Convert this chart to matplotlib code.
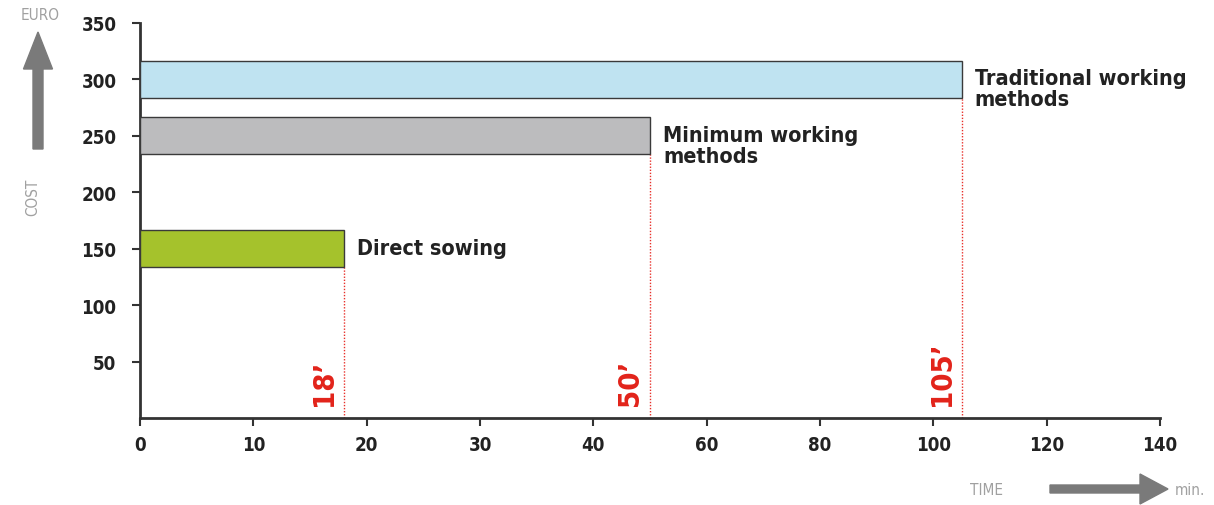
import numpy as np
import matplotlib
matplotlib.use("Agg")
import matplotlib.pyplot as plt
from matplotlib.patches import FancyArrow

# Data
methods = ["Direct sowing", "Minimum working\nmethods", "Traditional working\nmethods"]
costs = [150, 250, 300]          # EURO
times = [18, 50, 105]            # minutes
time_labels = ["18’", "50’", "105’"]
colors = ["#a5c22c", "#bcbcbe", "#bfe3f1"]
x_ticks = [0, 10, 20, 30, 40, 60, 80, 100, 120, 140]
y_ticks = [50, 100, 150, 200, 250, 300, 350]

FONT = ["DejaVu Sans"]
STRETCH = "condensed"

# piecewise scale: 0-40 in steps of 10, 40-140 in steps of 20 (equal spacing)
def fwd(x):
    x = np.asarray(x, dtype=float)
    return np.where(x <= 40, x / 10.0, 4 + (x - 40) / 20.0)

def inv(u):
    u = np.asarray(u, dtype=float)
    return np.where(u <= 4, u * 10.0, 40 + (u - 4) * 20.0)

fig = plt.figure(figsize=(12.14, 5.06), dpi=100)
ax = fig.add_axes([140/1214, 1 - 419/506, (1160-140)/1214, (419-24)/506])
ax.set_xscale("function", functions=(fwd, inv))
ax.set_xlim(0, 140)
ax.set_ylim(0, 350)

bar_h = 33
for c, t, col, lab, tl in zip(costs, times, colors, methods, time_labels):
    ax.barh(c, t, height=bar_h, left=0, color=col, edgecolor="#3a3a3a", linewidth=1.0, zorder=3)
    ax.vlines(t, 0, c - bar_h/2, colors="#e8302a", linestyles=(0, (1, 1.2)), linewidth=1.0, zorder=2)
    # method label
    ax.annotate(lab, xy=(t, c), xytext=(9.5, 8), textcoords="offset points",
                ha="left", va="top", fontsize=15.5, fontweight="bold",
                family=FONT, stretch=STRETCH, color="#222222", linespacing=1.05)
    # rotated time label
    ax.annotate(tl, xy=(t, 0), xytext=(-4, 9), textcoords="offset points",
                ha="right", va="bottom", rotation=90, fontsize=21, fontweight="bold",
                family=FONT, stretch=STRETCH, color="#e2231a")

ax.set_xticks(x_ticks)
ax.set_xticklabels([str(v) for v in x_ticks])
ax.set_yticks(y_ticks)
ax.set_yticklabels([str(v) for v in y_ticks])
for lbl in ax.get_xticklabels() + ax.get_yticklabels():
    lbl.set_fontweight("bold")
    lbl.set_family(FONT)
    lbl.set_stretch(STRETCH)
    lbl.set_fontsize(13.5)
    lbl.set_color("#222222")

ax.tick_params(axis="both", direction="out", length=6, width=1.5, color="#333333")
ax.tick_params(axis="y", pad=11)
ax.tick_params(axis="x", pad=6)
for s in ["top", "right"]:
    ax.spines[s].set_visible(False)
for s in ["left", "bottom"]:
    ax.spines[s].set_linewidth(2)
    ax.spines[s].set_color("#333333")
ax.minorticks_off()

# decorative axis arrows and titles (figure coords)
arrow_col = "#7a7a7a"
fig.patches.append(FancyArrow(38/1214, 1 - 150/506, 0, (150-33)/506, width=10/1214,
                              head_width=29/1214, head_length=37/506, length_includes_head=True,
                              transform=fig.transFigure, color=arrow_col, figure=fig))
fig.patches.append(FancyArrow(1050/1214, 1 - 490/506, (1168-1050)/1214, 0, width=8/506,
                              head_width=30/506, head_length=28/1214, length_includes_head=True,
                              transform=fig.transFigure, color=arrow_col, figure=fig))
fig.text(40/1214, 1 - 16/506, "EURO", ha="center", va="center", fontsize=11,
         family=FONT, stretch=STRETCH, color="#a0a0a0")
fig.text(33/1214, 1 - 197/506, "COST", ha="center", va="center", fontsize=11, rotation=90,
         family=FONT, stretch=STRETCH, color="#a0a0a0")
fig.text(987/1214, 1 - 491/506, "TIME", ha="center", va="center", fontsize=11,
         family=FONT, stretch=STRETCH, color="#a0a0a0")
fig.text(1175/1214, 1 - 491/506, "min.", ha="left", va="center", fontsize=11,
         family=FONT, stretch=STRETCH, color="#a0a0a0")

fig.savefig("out.png", dpi=100, facecolor="white")
